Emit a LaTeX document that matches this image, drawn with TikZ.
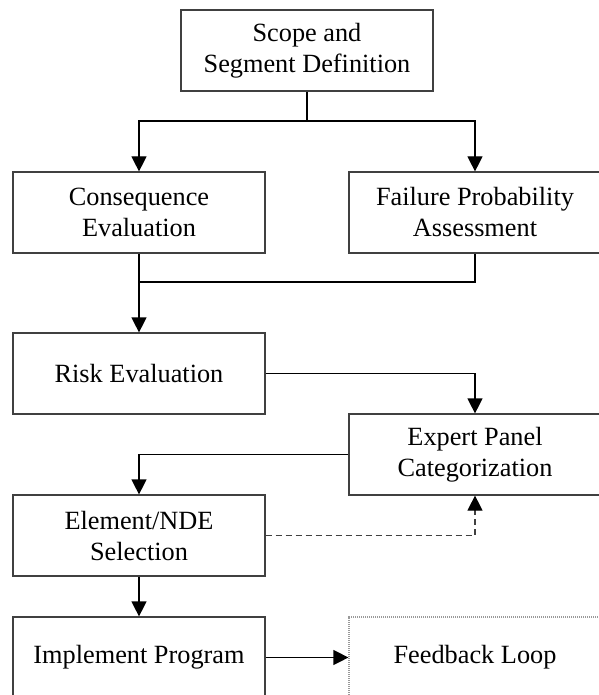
\documentclass[tikz,border=0pt]{standalone}
\usepackage{fontspec}
\setmainfont{Liberation Serif}
\usepackage{tikz}
\usetikzlibrary{arrows.meta}
\definecolor{edge}{HTML}{404040}

\begin{document}
\begin{tikzpicture}[x=1pt, y=-1pt, >={Triangle[length=15pt, width=15pt]},
      line width=1.2pt,
      stage/.style={draw=edge, align=center, minimum width=252pt,
                    minimum height=81pt, inner sep=0pt,
                    font=\fontsize{26.3}{31}\selectfont},
      open/.style={stage, draw=gray!80, dash pattern=on 1.2pt off 0.8pt}]
    \useasboundingbox (0,0) rectangle (598,695);
    \node[stage] (scope) at (307,50.5) {Scope and\\Segment Definition};
    \node[stage] (cons) at (139,212.5) {Consequence\\Evaluation};
    \node[stage] (fail) at (475,212.5) {Failure Probability\\Assessment};
    \node[stage] (risk) at (139,373.5) {Risk Evaluation};
    \node[stage] (expert) at (475,454.5) {Expert Panel\\Categorization};
    \node[stage] (elem) at (139,535.5) {Element/NDE\\Selection};
    \node[stage] (impl) at (139,657.5) {Implement Program};
    \node[open] (feed) at (475,657.5) {Feedback Loop};
    \coordinate (split) at (307,121);
    \coordinate (merge) at (139,282);
    % top split and merge
    \draw (scope) -- (split);
    \draw[->] (split) -| (cons); \draw[->] (split) -| (fail);
    \draw (cons) -- (merge); \draw (fail) |- (merge);
    \draw[->] (merge) -- (risk);
    % lower part
    \draw[->] (risk) -| (expert);
    \draw[->] (expert) -| (elem);
    \draw[-{Triangle[length=15pt, width=15pt, black]}, dash pattern=on 6pt off 4pt,
          draw=edge] (elem) -| (expert);
    \draw[->] (elem) -- (impl);
    \draw[->] (impl) -- (feed);
  \end{tikzpicture}
\end{document}
